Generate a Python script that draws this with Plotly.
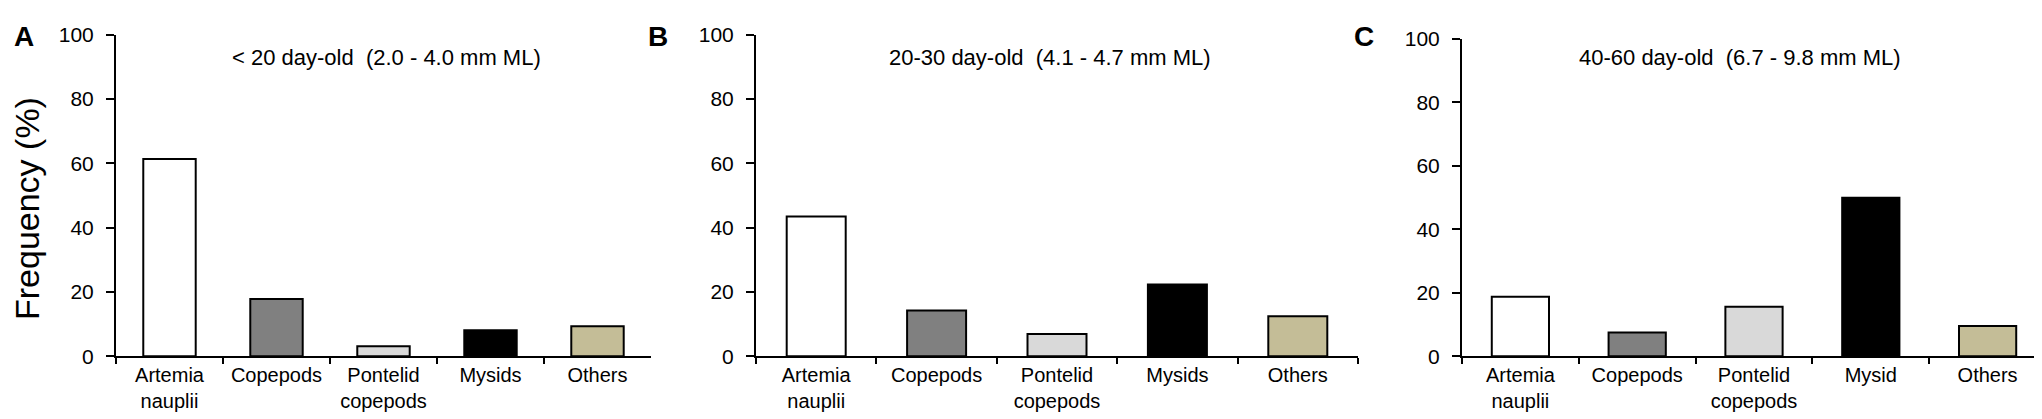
import plotly.graph_objects as go

# dados (frequencia em %)
categorias_ab = ["Artemia<br>nauplii", "Copepods", "Pontelid<br>copepods", "Mysids", "Others"]
categorias_c = ["Artemia<br>nauplii", "Copepods", "Pontelid<br>copepods", "Mysid", "Others"]

valores_a = [61.4, 17.8, 3.1, 8.1, 9.3]
valores_b = [43.5, 14.2, 6.9, 22.3, 12.4]
valores_c = [18.7, 7.5, 15.6, 49.9, 9.5]

titulos = [
    "< 20 day-old\u00a0\u00a0(2.0 - 4.0 mm ML)",
    "20-30 day-old\u00a0\u00a0(4.1 - 4.7 mm ML)",
    "40-60 day-old\u00a0\u00a0(6.7 - 9.8 mm ML)",
]
letras = ["A", "B", "C"]
ticks_y = [0, 20, 40, 60, 80, 100]

cores = ["#ffffff", "#808080", "#d9d9d9", "#000000", "#c4bd97"]

W, H = 2042, 419
fonte = "Liberation Sans, Arial, sans-serif"

# posicoes dos paineis em pixels (esquerda, direita, topo)
paineis = [(108, 643, 15.7), (748, 1350, 15.7), (1454, 2038, 20)]
base = 355.7
centros_titulo = [378, 1042, 1732]
centros_letra = [16, 650, 1356]

fig = go.Figure()

series = [(categorias_ab, valores_a), (categorias_ab, valores_b), (categorias_c, valores_c)]

for i, (cats, vals) in enumerate(series):
    n = "" if i == 0 else str(i + 1)
    fig.add_trace(go.Bar(
        x=cats, y=vals,
        xaxis="x" + n, yaxis="y" + n,
        width=0.49,
        marker=dict(color=cores, line=dict(color="black", width=2)),
        showlegend=False,
    ))

    esq, dir_, topo = paineis[i]
    fig.update_layout({
        "xaxis" + n: dict(
            domain=[esq / W, dir_ / W],
            anchor="y" + n,
            type="category",
            range=[-0.5, 4.5],
            showline=True, linecolor="black", linewidth=2,
            ticks="outside", ticklen=6, tickwidth=2, tickcolor="black",
            tickson="boundaries",
            showgrid=False, zeroline=False,
            tickfont=dict(family=fonte, size=20, color="black"),
            fixedrange=True,
        ),
        "yaxis" + n: dict(
            domain=[1 - base / H, 1 - topo / H],
            anchor="x" + n,
            range=[0, 100],
            tickvals=ticks_y,
            showline=True, linecolor="black", linewidth=2,
            ticks="outside", ticklen=8, tickwidth=2, tickcolor="black",
            ticklabelstandoff=8,
            showgrid=False, zeroline=False,
            tickfont=dict(family=fonte, size=21, color="black"),
            fixedrange=True,
        ),
    })

    fig.add_annotation(
        x=centros_titulo[i] / W, y=1 - 40 / H, xref="paper", yref="paper",
        text=titulos[i], showarrow=False, xanchor="center", yanchor="middle",
        font=dict(family=fonte, size=22, color="black"),
    )
    fig.add_annotation(
        x=centros_letra[i] / W, y=1 - 17 / H, xref="paper", yref="paper",
        text="<b>" + letras[i] + "</b>", showarrow=False, xanchor="center", yanchor="middle",
        font=dict(family=fonte, size=28, color="black"),
    )

# titulo do eixo y
fig.add_annotation(
    x=19 / W, y=1 - 200 / H, xref="paper", yref="paper",
    text="Frequency (%)", textangle=-90, showarrow=False,
    xanchor="center", yanchor="middle",
    font=dict(family=fonte, size=34, color="black"),
)

fig.update_layout(
    width=W, height=H,
    margin=dict(l=0, r=0, t=0, b=0),
    paper_bgcolor="white", plot_bgcolor="white",
    font=dict(family=fonte, color="black"),
)

fig.write_html("out.html")
